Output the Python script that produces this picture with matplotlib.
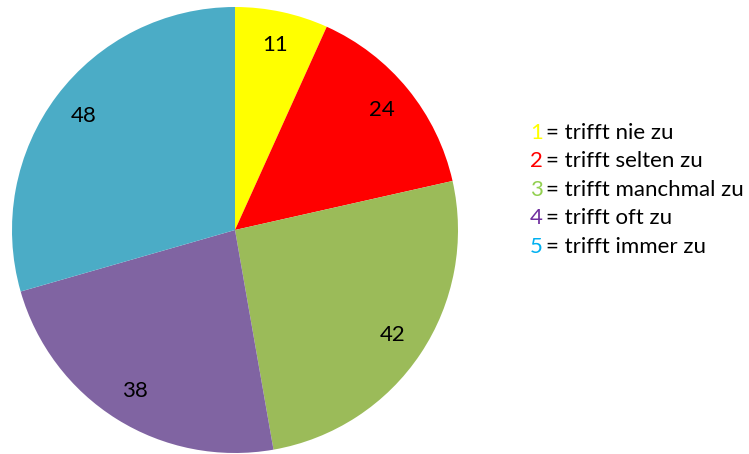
import matplotlib.pyplot as plt

# data
values = [11, 24, 42, 38, 48]
slice_colors = ['#FFFF00', '#FF0000', '#9BBB59', '#8064A2', '#4BACC6']
legend_nums = ['1', '2', '3', '4', '5']
legend_texts = ['= trifft nie zu', '= trifft selten zu', '= trifft manchmal zu',
                '= trifft oft zu', '= trifft immer zu']
legend_colors = ['#FFFF00', '#FF0000', '#92D050', '#7030A0', '#00B0F0']

plt.rcParams['font.family'] = ['Lato', 'DejaVu Sans']

W, H = 749, 454
fig = plt.figure(figsize=(W / 100, H / 100), dpi=100)

# pie centre and radius in pixels
cx, cy, r = 235, 230, 223
ax = fig.add_axes([(cx - r) / W, (H - cy - r) / H, 2 * r / W, 2 * r / H])
total = sum(values)
ax.pie(values, colors=slice_colors, startangle=90, counterclock=False,
       radius=1, autopct=lambda p: '%d' % round(p * total / 100),
       pctdistance=0.85, textprops={'fontsize': 16, 'color': 'black'})
ax.set_xlim(-1, 1)
ax.set_ylim(-1, 1)
ax.set_aspect('equal')

# legend as coloured numbers + black text
y0, dy = 133, 28.5
for i in range(len(values)):
    y = 1 - (y0 + i * dy) / H
    fig.text(530 / W, y, legend_nums[i], color=legend_colors[i],
             fontsize=16, va='center', ha='left')
    fig.text(546 / W, y, legend_texts[i], color='black',
             fontsize=16, va='center', ha='left')

fig.savefig('out.png', dpi=100)
